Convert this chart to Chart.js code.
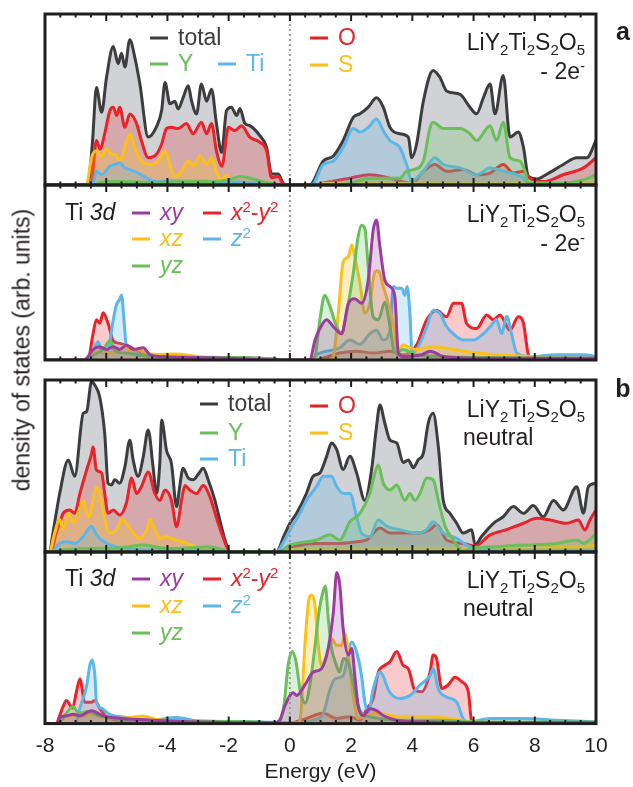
<!DOCTYPE html>
<html>
<head>
<meta charset="utf-8">
<script src="https://cdn.jsdelivr.net/npm/chart.js@4.4.0/dist/chart.umd.min.js"></script>
<style>
  body { margin: 0; background: #fff; font-family: "Liberation Sans", Arial, sans-serif; color: #231f20; }
  #wrap { position: relative; width: 633px; height: 787px; overflow: hidden; }
  canvas { position: absolute; left: 15px; }
  .t { position: absolute; white-space: nowrap; font-size: 23px; line-height: 1; transform: translateY(-50%); }
  .r { transform: translate(-100%, -50%); }
  .bar { position: absolute; width: 18px; height: 3px; transform: translateY(-50%); }
  .t sub { font-size: 15px; vertical-align: -5px; line-height: 0; }
  .t sup { font-size: 15px; vertical-align: 8px; line-height: 0; }
  .ylab { position: absolute; left: 22px; top: 350px; font-size: 23px; white-space: nowrap;
          transform: translate(-50%, -50%) rotate(-90deg); }
  .letter { position: absolute; font-size: 25px; font-weight: bold; transform: translate(-50%, -50%); }
</style>
</head>
<body>
<div id="wrap">
  <canvas id="a1"></canvas>
  <canvas id="a2"></canvas>
  <canvas id="b1"></canvas>
  <canvas id="b2"></canvas>
  <div class="ylab">density of states (arb. units)</div>
  <div class="letter" style="left:623px;top:31px">a</div>
  <div class="letter" style="left:623px;top:388px">b</div>
</div>
<script>
// energies in eV, values in arbitrary units (0-100 = panel height)
// panel a, -2e- : element projected DOS
const aTotal = [[-8,0],[-6.6,0],[-6.45,25],[-6.32,57],[-6.15,42.5],[-5.99,63],[-5.77,81],[-5.61,71],[-5.5,77],[-5.39,69],[-5.23,85],[-5.07,75],[-4.9,59],[-4.63,28],[-4.36,34],[-4.19,43.5],[-4.08,60],[-3.92,47.5],[-3.76,49],[-3.65,44.5],[-3.49,51],[-3.32,58],[-3.21,49],[-3.05,41.5],[-2.89,59],[-2.72,49],[-2.56,56],[-2.4,36],[-2.23,19],[-2.07,43.5],[-1.91,45.5],[-1.74,40.6],[-1.63,44.7],[-1.47,36],[-1.31,34.7],[-0.98,28.8],[-0.76,22],[-0.6,6.5],[-0.38,6.5],[-0.22,1],[-0.1,0],[0.65,0],[1.09,14],[1.42,17],[1.74,26],[2.07,39.6],[2.29,41.6],[2.56,45.5],[2.83,51],[3.05,45.5],[3.27,33.7],[3.59,30],[3.87,28],[3.98,16],[4.14,24],[4.36,49],[4.68,67],[4.9,63],[5.12,55],[5.56,53],[5.88,45.5],[6.1,41.6],[6.32,51],[6.54,59],[6.7,41.6],[6.97,64],[7.19,28],[7.46,31],[7.63,22],[7.79,5],[8.06,3.5],[8.39,6.3],[8.93,12],[9.37,16],[9.7,16],[10,26]];
const aO = [[-8,0],[-6.5,0],[-6.32,26],[-6.2,21],[-6.05,30],[-5.88,43.5],[-5.77,45.5],[-5.66,40.6],[-5.56,45.5],[-5.39,33.7],[-5.23,41.5],[-5.01,36],[-4.85,26],[-4.63,16],[-4.36,18],[-4.19,24],[-4.03,33],[-3.87,33.7],[-3.65,33],[-3.38,36],[-3.16,30],[-2.89,36.7],[-2.72,30],[-2.56,36],[-2.4,20],[-2.22,11],[-2.01,33.7],[-1.8,31.8],[-1.58,34.7],[-1.31,28],[-0.98,25],[-0.76,20],[-0.6,4.3],[-0.38,5],[-0.22,0.5],[-0.1,0],[0.9,0],[1.09,1],[1.96,4],[2.61,6],[3.27,4],[3.98,1],[4.36,8],[4.74,12],[5.12,8],[5.66,9],[6.1,6],[6.54,7],[6.97,12],[7.3,7],[7.63,8],[7.84,4],[8.28,2],[8.93,6],[9.59,10],[10,16]];
const aS = [[-8,0],[-6.65,0],[-6.48,16],[-6.32,20],[-6.15,17],[-5.99,21],[-5.83,18],[-5.7,18],[-5.56,14],[-5.39,22],[-5.23,30],[-5.07,22],[-4.85,14],[-4.57,12],[-4.3,14],[-4.08,20],[-3.92,12],[-3.76,5],[-3.54,8],[-3.32,14],[-3.16,11],[-2.94,17],[-2.72,12],[-2.56,16],[-2.4,8],[-2.23,3],[-2.07,6],[-1.91,2],[-1.4,1],[-0.9,0],[0.8,0],[1.2,1],[10,1]];
const aTi = [[-8,0],[-6.45,0],[-6.32,8],[-6.15,6],[-5.88,11],[-5.72,12],[-5.56,13],[-5.39,10],[-5.23,9],[-4.96,7],[-4.68,4],[-4.36,2],[-3.92,2.5],[-2.5,2],[-1.5,1.5],[-0.8,0.5],[-0.5,0],[0.71,0],[1.09,12],[1.42,14],[1.74,22],[2.07,33],[2.29,31],[2.56,33.7],[2.83,38.6],[3.05,31.8],[3.27,26],[3.59,22],[3.81,12],[3.98,2],[4.14,4],[4.36,8],[4.74,16],[5.01,12],[5.56,10],[6.1,6],[6.54,10],[6.97,8],[7.63,4],[7.79,0.5],[10,0.5]];
const aY = [[-8,0],[-6.4,0],[-6.2,1.5],[-5.5,2],[-4.5,1.5],[-3.5,2],[-2.5,2],[-2,3],[-1.63,5],[-1.3,4],[-0.9,2],[-0.5,0.5],[-0.3,0],[1.5,0],[1.96,1],[2.61,4],[3.59,4],[3.81,8],[4.03,9],[4.36,14],[4.58,33.7],[4.68,36.7],[5.01,33],[5.56,33],[5.88,30],[6.1,26],[6.54,34.7],[6.75,26],[6.97,36.7],[7.19,16],[7.52,14],[7.68,8],[7.79,1],[8.71,1],[9.59,3],[10,6]];

// panel a, -2e- : Ti 3d orbitals
const aXy = [[-8,0],[-6.75,0],[-6.64,1],[-6.43,6],[-6.21,7.6],[-5.99,6],[-5.77,7.6],[-5.56,6],[-5.34,8.6],[-5.12,6],[-4.79,7],[-4.57,3],[-4.2,2],[-2,1],[-0.5,0],[0.65,0],[0.82,11.4],[0.98,18],[1.2,23],[1.42,19],[1.69,15],[1.91,32.4],[2.12,35],[2.34,32.4],[2.56,45.7],[2.72,74],[2.83,80],[2.94,64.8],[3.1,45.7],[3.27,42],[3.43,36],[3.54,4],[3.7,2],[4.3,3],[4.58,5],[5.01,2],[6,1],[10,1]];
const aXz = [[-8,0],[-6.7,0],[-6.5,3],[-6.2,5],[-5.9,4],[-5.6,6],[-5.4,8],[-5.2,5],[-5,6],[-4.7,4],[-4.3,3],[-3.8,3.5],[-3,2],[-1.5,1],[-0.5,0.5],[0,0],[1.3,0],[1.42,2],[1.58,26.7],[1.74,56],[1.91,59],[2.02,65.7],[2.12,59],[2.29,43.8],[2.45,26.7],[2.61,32.4],[2.78,50.5],[2.89,51],[3.05,42],[3.21,32.4],[3.43,15],[3.49,4],[3.7,8.6],[3.92,7],[4.14,6],[4.58,7.6],[5.01,7],[5.66,5],[6.75,3],[7.84,2],[8.5,1],[10,1]];
const aYz = [[-8,0],[-6.7,0],[-6.4,3],[-6.1,6],[-5.88,11],[-5.7,5],[-5.4,4],[-5,3],[-4.5,2],[-3,1.5],[-1,1],[0,0],[0.7,0],[0.82,2],[0.98,23],[1.14,37],[1.31,30.5],[1.53,19],[1.69,15],[1.85,26.7],[2.07,49.5],[2.23,70.5],[2.34,77],[2.45,75],[2.56,53],[2.72,24.7],[2.89,23],[3.1,33],[3.27,19],[3.43,4],[3.7,6],[4.14,3],[4.9,2],[6,1.5],[10,1]];
const aX2y2 = [[-8,0],[-6.6,0],[-6.43,15],[-6.32,23],[-6.21,21],[-6.1,27],[-5.94,21],[-5.77,11],[-5.56,9.5],[-5.23,7.6],[-4.9,4],[-4.47,2],[-3,1.5],[-1,1],[0,0],[0.8,0],[1.63,4],[2.18,5],[2.72,4],[3.27,5],[3.7,3],[4.14,8.6],[4.47,23],[4.79,28.5],[5.12,24.7],[5.34,32.4],[5.61,32.4],[5.77,21],[6.1,18],[6.43,25.7],[6.65,23],[6.86,25.7],[7.19,17],[7.46,24.7],[7.63,21],[7.79,3],[7.95,0],[10,0]];
const aZ2 = [[-8,0],[-6.5,0],[-6.37,7.6],[-6.26,10.5],[-6.15,4],[-5.94,6],[-5.77,23],[-5.66,32],[-5.58,34],[-5.5,37],[-5.42,23],[-5.34,7.6],[-5.12,5],[-4.7,2],[-3,1.5],[-1,1],[0,0],[0.7,0],[0.87,3],[1.63,7],[1.96,11.4],[2.29,9],[2.61,15],[2.83,17],[3.05,11.4],[3.27,17],[3.38,42],[3.49,41],[3.65,41],[3.76,37],[3.83,42],[3.92,26.7],[3.99,4],[4.14,6],[4.47,19],[4.68,28.5],[4.9,26.7],[5.12,19],[5.34,15],[5.66,11.4],[5.99,11.4],[6.32,15],[6.54,19],[6.75,23],[6.92,15],[7.08,25],[7.24,15],[7.41,4],[7.84,2],[8.71,3],[9.59,3],[10,2]];

// panel b, neutral : element projected DOS
const bTotal = [[-8,0],[-7.85,0],[-7.75,10],[-7.52,34],[-7.24,53.5],[-7.03,44],[-6.75,80.6],[-6.64,81.6],[-6.48,99],[-6.37,97],[-6.21,90],[-6.05,69],[-5.94,40],[-5.83,39],[-5.72,42],[-5.56,40],[-5.39,49.6],[-5.23,65],[-5.12,53.5],[-4.96,44],[-4.79,55.4],[-4.63,71],[-4.47,49.6],[-4.36,34],[-4.25,51.5],[-4.19,76.7],[-4.03,59],[-3.87,51.5],[-3.7,26.4],[-3.6,38],[-3.49,48.7],[-3.32,43],[-3.16,42],[-3,45],[-2.83,48.7],[-2.67,42],[-2.45,30],[-2.29,18.6],[-2.12,7],[-1.96,0],[-0.45,0],[-0.2,9],[0,16.7],[0.22,22.5],[0.54,34],[0.76,44],[0.98,46],[1.2,55.6],[1.36,63.4],[1.53,59.5],[1.74,48],[1.96,55.6],[2.18,46],[2.45,30],[2.67,48],[2.83,73],[2.94,85.5],[3.1,75],[3.27,65],[3.49,63.4],[3.7,52],[3.87,53.5],[4.03,49],[4.19,53.5],[4.36,57.4],[4.52,75],[4.68,80.6],[4.85,61.2],[5.01,30],[5.23,22.5],[5.45,16.7],[5.66,11],[5.94,13],[6.05,4],[6.26,9],[6.65,16.7],[6.97,20.5],[7.3,26.4],[7.63,22.5],[7.95,27],[8.28,20.5],[8.61,30],[8.93,24.4],[9.37,38],[9.59,22.5],[9.75,38],[10,40]];
const bO = [[-8,0],[-7.8,0],[-7.65,10],[-7.52,16.7],[-7.41,22.5],[-7.19,24.4],[-7.03,22.5],[-6.86,34],[-6.64,47.7],[-6.48,57],[-6.43,61],[-6.32,47.7],[-6.15,46],[-6.05,34],[-5.94,22.5],[-5.77,24.4],[-5.56,21.5],[-5.34,28.5],[-5.17,43],[-5.01,34],[-4.85,38],[-4.63,46.5],[-4.41,34],[-4.25,30],[-4.08,36],[-3.87,30],[-3.7,14.7],[-3.54,30],[-3.43,38.6],[-3.27,36],[-3.05,34],[-2.83,38.6],[-2.61,32],[-2.4,20],[-2.18,8.5],[-1.96,0],[-0.3,0],[0,2.5],[0.87,5],[1.63,5],[2.18,6],[2.51,7],[2.94,14],[3.27,11],[4.14,11],[4.58,13],[4.79,16],[5.12,7],[5.66,5],[6.05,3.5],[6.54,10],[7.08,13],[7.63,16.7],[8.06,19.6],[8.5,18.6],[9.04,16.7],[9.42,18.6],[9.64,12.8],[9.8,18.6],[10,24.4]];
const bS = [[-8,0],[-7.85,0],[-7.7,10],[-7.52,19],[-7.41,13],[-7.24,22.5],[-7.08,17],[-6.86,26],[-6.75,30],[-6.59,20],[-6.43,30],[-6.32,38],[-6.21,34],[-6.05,19],[-5.88,11],[-5.66,13],[-5.5,19],[-5.34,17],[-5.12,11],[-4.9,8],[-4.68,13],[-4.57,19],[-4.41,13],[-4.25,8],[-4.03,9],[-3.76,7],[-3.49,6],[-3.16,3.5],[-2.6,2],[-2,0],[-0.3,0],[0,1.5],[2,2],[6,2],[9.5,3],[10,4]];
const bTi = [[-8,0],[-7.8,0],[-7.52,5],[-7.3,6],[-7.03,5],[-6.75,9],[-6.48,15],[-6.32,10],[-5.99,5],[-5.4,2],[-4.3,1],[-2.2,1],[-2,0],[-0.45,0],[-0.2,6],[0,12.8],[0.33,22.5],[0.54,30],[0.87,38],[1.09,44],[1.36,44],[1.53,38],[1.74,34],[1.96,34],[2.18,20.5],[2.34,11],[2.61,9],[2.89,18.6],[3.16,15],[3.59,13],[4.14,11],[4.47,13],[4.68,17.6],[5.01,11],[5.45,8],[5.77,4],[6.1,2],[7,1],[10,1]];
const bY = [[-8,0],[-7.8,0],[-7.5,1],[-6.5,2],[-5.5,2.5],[-4.8,4],[-4,2],[-3.2,2.5],[-2.7,3],[-2.2,1.5],[-2,0],[-0.4,0],[0,4],[0.87,7],[1.31,10],[1.63,7],[1.96,17.6],[2.29,22.5],[2.61,34],[2.78,46],[2.89,50.6],[3.05,40],[3.27,36],[3.49,39],[3.76,30],[3.92,34],[4.08,30],[4.25,34],[4.47,43],[4.68,42],[4.85,30],[5.07,15],[5.34,7],[5.66,0.5],[5.88,2],[6.54,3],[7.63,4],[8.71,5],[9.37,7],[9.59,5],[10,10.5]];

// panel b, neutral : Ti 3d orbitals
const bXy = [[-8,0],[-7.6,0],[-7.52,3.5],[-7.3,4.5],[-7.08,5.5],[-6.86,4.5],[-6.48,7.5],[-6.1,4.5],[-5.5,3],[-4.5,2],[-3,1],[-0.5,0.5],[-0.33,2],[-0.16,10.5],[0.11,18],[0.22,16.4],[0.49,22.5],[0.76,30],[1.03,32],[1.25,43.8],[1.42,65],[1.53,88],[1.63,80.7],[1.74,55.4],[1.91,40],[2.02,43.8],[2.12,28],[2.23,10.5],[2.4,4.7],[2.61,8.6],[2.83,7.6],[3.05,4.7],[3.49,2],[4.5,1],[10,0.5]];
const bXz = [[-8,0],[-7.6,0],[-7.4,3],[-7.1,5],[-6.8,4],[-6.5,6],[-6.2,4],[-5.8,3],[-5.2,3.5],[-4.79,4.5],[-4.4,2.5],[-3.5,1.5],[-1,0.5],[0.2,0],[0.33,2],[0.49,45.6],[0.6,70],[0.71,75],[0.82,69],[0.93,45.6],[1.03,34],[1.2,40],[1.36,49.5],[1.53,45.6],[1.69,45.6],[1.8,52.5],[1.91,40],[2.02,22.5],[2.12,10.5],[2.23,3],[2.4,4],[2.83,6],[3.59,4],[4.58,4],[5.23,3],[5.9,1],[10,0.5]];
const bYz = [[-8,0],[-7.6,0],[-7.35,5],[-7.08,10],[-6.9,6],[-6.6,7],[-6.3,5],[-5.8,3],[-5,2],[-3.5,1.5],[-1,1],[-0.4,0],[-0.2,10],[-0.05,35],[0.08,42],[0.2,36],[0.35,18],[0.5,12],[0.65,22],[0.8,42],[0.95,65],[1.1,78],[1.16,80],[1.25,62],[1.35,45],[1.5,35],[1.62,30],[1.75,38],[1.9,36],[2.05,25],[2.2,12],[2.35,6],[2.6,4],[2.9,3],[3.5,2],[5,2],[6,1],[10,1]];
const bX2y2 = [[-8,0],[-7.65,0],[-7.46,7.6],[-7.3,13.5],[-7.1,9],[-6.98,18],[-6.86,26],[-6.7,12.5],[-6.48,12.5],[-6.37,13.5],[-6.21,8.8],[-5.99,4],[-5.56,2],[-4.5,2],[-3,1],[-1,0.5],[0,0],[0.2,1],[0.54,3],[1.09,6],[1.53,3],[1.96,4],[2.29,2],[2.51,8.6],[2.72,14.6],[2.89,30],[3.1,34],[3.27,36],[3.49,42],[3.7,34],[3.87,32],[4.08,19.5],[4.3,18.5],[4.58,30],[4.68,40],[4.79,38],[4.96,20.5],[5.17,22.5],[5.39,27],[5.61,24.5],[5.83,18.5],[5.94,1],[6.1,0],[10,0]];
const bZ2 = [[-8,0],[-7,0],[-6.86,9],[-6.64,22],[-6.54,33.5],[-6.46,37],[-6.37,28],[-6.32,12.5],[-6.15,9],[-5.9,5.5],[-5.3,3.5],[-4.6,2],[-3.7,3.5],[-3,1.5],[-1,1],[0,0.5],[0.76,2],[1.09,6],[1.31,20],[1.47,26],[1.74,28],[2.02,47.6],[2.18,41.7],[2.34,28],[2.45,12.5],[2.56,6.6],[2.72,20],[2.94,30],[3.27,18],[3.59,14.6],[3.92,16.4],[4.25,22.5],[4.58,28],[4.68,32],[4.85,20],[5.12,15.5],[5.45,12.5],[5.66,3],[5.85,1],[6.54,3],[7.63,3],[8.71,2],[10,1]];

const xTicks = { min: -8, max: 10, step: 2, minor: 0.5 };

const C = {
  total: ['#3d3d3f', 'rgba(150,155,162,0.45)'],
  red: ['#e8232a', 'rgba(232,35,42,0.24)'],
  yellow: ['#fcc018', 'rgba(252,192,24,0.26)'],
  green: ['#6abf5a', 'rgba(106,191,90,0.24)'],
  blue: ['#5db6e8', 'rgba(93,182,232,0.26)'],
  purple: ['#9b3d9e', 'rgba(155,61,158,0.24)']
};

function ds(pts, col) {
  return {
    data: pts.map(function (p) { return { x: p[0], y: p[1] }; }),
    borderColor: C[col][0],
    backgroundColor: C[col][1],
    fill: 'origin',
    borderWidth: 3,
    pointRadius: 0,
    tension: 0.4,
    cubicInterpolationMode: 'monotone'
  };
}

const frame = {
  id: 'frame',
  afterDatasetsDraw(chart) {
    const ctx = chart.ctx, a = chart.chartArea, x = chart.scales.x;
    ctx.save();
    const x0 = x.getPixelForValue(0);
    ctx.strokeStyle = '#9a9a9a';
    ctx.lineWidth = 2;
    ctx.setLineDash([2, 3]);
    ctx.beginPath();
    ctx.moveTo(x0, a.top);
    ctx.lineTo(x0, a.bottom);
    ctx.stroke();
    ctx.setLineDash([]);
    ctx.strokeStyle = '#1e1e1e';
    ctx.lineWidth = 2;
    ctx.beginPath();
    for (let v = xTicks.min + xTicks.minor; v < xTicks.max; v += xTicks.minor) {
      const len = (v % xTicks.step === 0) ? 7 : 3.5;
      const px = x.getPixelForValue(v);
      ctx.moveTo(px, a.top);
      ctx.lineTo(px, a.top + len);
      ctx.moveTo(px, a.bottom);
      ctx.lineTo(px, a.bottom - len);
    }
    ctx.stroke();
    ctx.lineWidth = 3;
    ctx.strokeRect(a.left, a.top, a.right - a.left, a.bottom - a.top);
    ctx.restore();
  }
};

function panel(id, top, height, sets, withAxis) {
  const cv = document.getElementById(id);
  const h = withAxis ? 787 - (top - 2) : height + 4;
  cv.width = 611;
  cv.height = h;
  cv.style.top = (top - 2) + 'px';
  new Chart(cv, {
    type: 'line',
    data: { datasets: sets },
    options: {
      responsive: false,
      animation: false,
      devicePixelRatio: 1,
      layout: { padding: { left: 30, right: 30, top: 2, bottom: 2 } },
      plugins: { legend: { display: false }, tooltip: { enabled: false } },
      scales: {
        x: {
          type: 'linear', min: xTicks.min, max: xTicks.max, display: withAxis,
          grid: { display: false, drawTicks: false }, border: { display: false },
          ticks: { stepSize: xTicks.step, padding: 10, color: '#231f20',
                   font: { family: 'Liberation Sans', size: 21 } },
          title: { display: true, text: 'Energy (eV)', color: '#231f20', padding: { top: -9, bottom: 0 },
                   font: { family: 'Liberation Sans', size: 21 } }
        },
        y: { min: 0, max: 100, display: false }
      }
    },
    plugins: [frame]
  });
}

panel('a1', 14, 171, [ds(aY, 'green'), ds(aTi, 'blue'), ds(aS, 'yellow'), ds(aO, 'red'), ds(aTotal, 'total')], false);
panel('a2', 185, 175, [ds(aXy, 'purple'), ds(aYz, 'green'), ds(aXz, 'yellow'), ds(aZ2, 'blue'), ds(aX2y2, 'red')], false);
panel('b1', 380, 172, [ds(bY, 'green'), ds(bTi, 'blue'), ds(bS, 'yellow'), ds(bO, 'red'), ds(bTotal, 'total')], false);
panel('b2', 552, 171, [ds(bXy, 'purple'), ds(bYz, 'green'), ds(bXz, 'yellow'), ds(bZ2, 'blue'), ds(bX2y2, 'red')], true);

// legends and labels
const wrap = document.getElementById('wrap');
function bar(x, y, col) {
  const d = document.createElement('div');
  d.className = 'bar';
  d.style.left = x + 'px';
  d.style.top = y + 'px';
  d.style.background = C[col][0];
  wrap.appendChild(d);
}
function text(x, y, html, col, right) {
  const d = document.createElement('div');
  d.className = right ? 't r' : 't';
  d.style.left = x + 'px';
  d.style.top = y + 'px';
  d.style.color = col ? C[col][0] : '#231f20';
  d.innerHTML = html;
  wrap.appendChild(d);
}
function item(x, y, col, html) {
  bar(x, y + 1, col);
  text(x + 28, y, html, col);
}
const formula = 'LiY<sub>2</sub>Ti<sub>2</sub>S<sub>2</sub>O<sub>5</sub>';

// panel a top
item(150, 37, 'total', 'total');
item(150, 63, 'green', 'Y');
item(218, 63, 'blue', 'Ti');
item(310, 37, 'red', 'O');
item(310, 64, 'yellow', 'S');
text(585, 42, formula, null, true);
text(585, 71, '- 2e<sup>-</sup>', null, true);

// panel a bottom
text(65, 212, 'Ti <i>3d</i>');
item(132, 212, 'purple', '<i>xy</i>');
item(203, 212, 'red', '<i>x</i><sup>2</sup>-<i>y</i><sup>2</sup>');
item(132, 238, 'yellow', '<i>xz</i>');
item(203, 238, 'blue', '<i>z</i><sup>2</sup>');
item(132, 265, 'green', '<i>yz</i>');
text(585, 214, formula, null, true);
text(585, 243, '- 2e<sup>-</sup>', null, true);

// panel b top
item(200, 403, 'total', 'total');
item(200, 432, 'green', 'Y');
item(200, 458, 'blue', 'Ti');
item(310, 405, 'red', 'O');
item(310, 432, 'yellow', 'S');
text(585, 409, formula, null, true);
text(463, 437, 'neutral');

// panel b bottom
text(65, 578, 'Ti <i>3d</i>');
item(132, 578, 'purple', '<i>xy</i>');
item(203, 578, 'red', '<i>x</i><sup>2</sup>-<i>y</i><sup>2</sup>');
item(132, 605, 'yellow', '<i>xz</i>');
item(203, 605, 'blue', '<i>z</i><sup>2</sup>');
item(132, 632, 'green', '<i>yz</i>');
text(585, 580, formula, null, true);
text(463, 608, 'neutral');
</script>
</body>
</html>
